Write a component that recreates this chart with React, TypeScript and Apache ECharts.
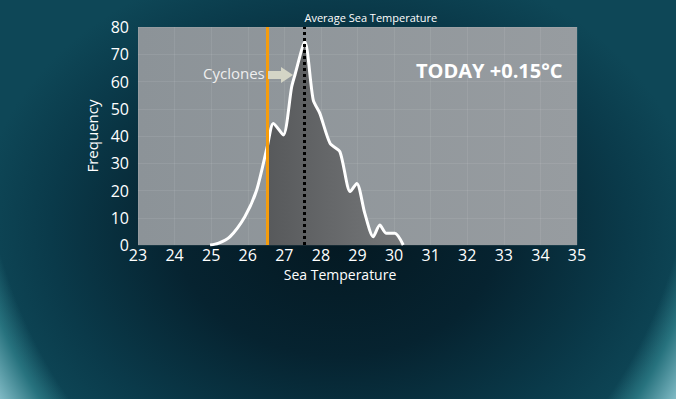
import React, { useEffect, useRef } from "react";
import * as echarts from "echarts";

// Sea temperature (°C) and frequency
const temps = [24.97, 25.19, 25.51, 25.92, 26.24, 26.54, 26.70, 26.97, 27.20, 27.29, 27.56, 27.79, 27.97, 28.25, 28.52, 28.80, 28.98, 29.20, 29.43, 29.61, 29.79, 30.02, 30.25];
const freq = [0, 0.6, 3, 10.4, 20, 36.5, 44.6, 40.4, 58, 62.4, 74.6, 53.2, 48.3, 37.3, 34.2, 19.6, 22.6, 11.6, 3, 7.3, 4.3, 4.3, 0];

const cycloneThreshold = 26.54;
const averageTemp = 27.55;

const xTicks = { min: 23, max: 35, interval: 1 };
const yTicks = { min: 0, max: 80, interval: 10 };

const FONT = "'Open Sans', 'DejaVu Sans', sans-serif";

export default function App() {
  const ref = useRef<HTMLDivElement>(null);

  useEffect(() => {
    if (!ref.current) return;
    const chart = echarts.init(ref.current, null, { renderer: "svg" });
    const curve = temps.map((t, i) => [t, freq[i]]);
    const warm = curve.filter((p) => p[0] >= cycloneThreshold);

    chart.setOption({
      animation: false,
      backgroundColor: "transparent",
      textStyle: { fontFamily: FONT },
      grid: {
        left: 138,
        right: 99,
        top: 27,
        bottom: 154,
        show: true,
        borderWidth: 0,
        backgroundColor: new echarts.graphic.LinearGradient(0, 0, 1, 0, [
          { offset: 0, color: "#8c9398" },
          { offset: 1, color: "#979ca0" },
        ]),
      },
      xAxis: {
        type: "value",
        min: xTicks.min,
        max: xTicks.max,
        interval: xTicks.interval,
        axisLine: { show: false },
        axisTick: { show: false },
        axisLabel: { color: "#ffffff", fontSize: 16, margin: 2, fontFamily: FONT },
        splitLine: { show: true, lineStyle: { color: "rgba(255,255,255,0.08)", width: 1 } },
      },
      yAxis: {
        type: "value",
        min: yTicks.min,
        max: yTicks.max,
        interval: yTicks.interval,
        name: "Frequency",
        nameLocation: "middle",
        nameGap: 37,
        nameTextStyle: { color: "#ffffff", fontSize: 15, fontFamily: FONT },
        axisLine: { show: false },
        axisTick: { show: false },
        axisLabel: { color: "#ffffff", fontSize: 16, margin: 9, fontFamily: FONT },
        splitLine: { show: true, lineStyle: { color: "rgba(255,255,255,0.08)", width: 1 } },
      },
      series: [
        {
          type: "line",
          data: warm,
          smooth: 0.25,
          symbol: "none",
          silent: true,
          lineStyle: { width: 0 },
          areaStyle: {
            opacity: 1,
            color: new echarts.graphic.LinearGradient(0, 0, 1, 0, [
              { offset: 0, color: "#57595b" },
              { offset: 1, color: "#76787a" },
            ]),
          },
          z: 2,
        },
        {
          type: "line",
          data: curve,
          smooth: 0.25,
          symbol: "none",
          silent: true,
          lineStyle: { width: 3, color: "#ffffff" },
          z: 4,
          markLine: {
            silent: true,
            symbol: "none",
            data: [
              {
                xAxis: cycloneThreshold,
                lineStyle: { color: "#f59c0c", width: 3, type: "solid" },
                label: { show: false },
              },
              {
                xAxis: averageTemp,
                lineStyle: { color: "#000000", width: 3, type: [3, 3] },
                label: {
                  show: true,
                  position: "end",
                  formatter: "Average Sea Temperature",
                  color: "#ffffff",
                  fontSize: 11,
                  distance: 4,
                  align: "left",
                  fontFamily: FONT,
                },
              },
            ],
          },
        },
      ],
      graphic: [
        {
          type: "text",
          x: 340,
          y: 274,
          style: {
            text: "Sea Temperature",
            fill: "#ffffff",
            fontSize: 14,
            fontFamily: FONT,
            align: "center",
            verticalAlign: "middle",
          },
          z: 10,
        },
        {
          type: "text",
          left: 203,
          top: 65,
          style: { text: "Cyclones", fill: "#eeeeee", fontSize: 15, fontFamily: FONT },
          z: 10,
        },
        {
          type: "polygon",
          shape: {
            points: [
              [268, 71],
              [281, 71],
              [281, 67],
              [293, 75],
              [281, 83],
              [281, 79],
              [268, 79],
            ],
          },
          style: { fill: "#d4d5c6" },
          z: 10,
        },
        {
          type: "text",
          left: 416,
          top: 60,
          style: {
            text: "TODAY +0.15°C",
            fill: "#ffffff",
            fontSize: 20,
            fontWeight: "bold",
            fontFamily: FONT,
          },
          z: 10,
        },
      ],
    });
    return () => chart.dispose();
  }, []);

  const bg = [
    "radial-gradient(ellipse 374px 469px at 338px 100px, rgba(0,0,0,0) 0%, rgba(0,0,0,0) 96%, rgba(60,150,158,0.55) 102%, rgba(150,205,215,0.95) 112%)",
    "radial-gradient(ellipse 360px 280px at 338px 230px, #041821 0%, #062330 45%, #0a3a4a 80%, #0e4757 100%)",
  ].join(",");

  return (
    <div
      style={{
        position: "fixed",
        left: 0,
        top: 0,
        width: 676,
        height: 399,
        background: bg,
        backgroundColor: "#0c4252",
      }}
    >
      <div ref={ref} style={{ width: 676, height: 399 }} />
    </div>
  );
}
